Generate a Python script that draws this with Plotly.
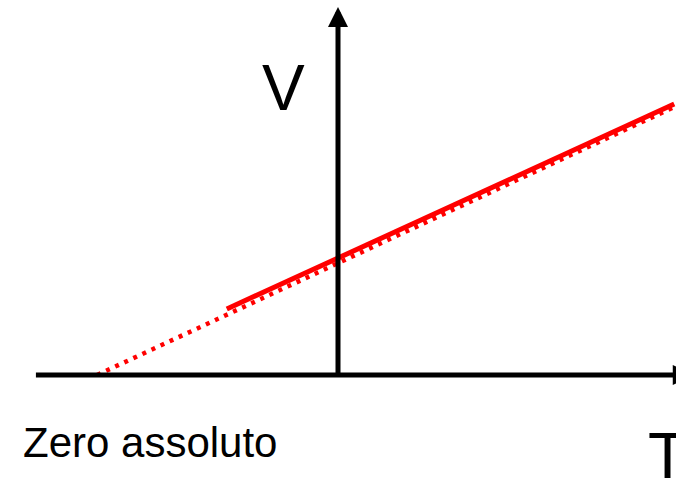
import plotly.graph_objects as go

# Data (T in °C, V in arbitrary units)
T_solid = [-126, 381]
V_solid = [66, 271]
T_dotted = [-273, 381]
V_dotted = [0, 268]

x_range = [-383, 383]
y_range = [-104, 375]

fig = go.Figure()
fig.add_trace(go.Scatter(x=T_dotted, y=V_dotted, mode="lines",
                         line=dict(color="#ff0000", width=4.5, dash="4px,6px"),
                         hoverinfo="skip"))
fig.add_trace(go.Scatter(x=T_solid, y=V_solid, mode="lines",
                         line=dict(color="#ff0000", width=5),
                         hoverinfo="skip"))

# axes with arrows
fig.add_annotation(x=402, y=0, ax=-344, ay=0, xref="x", yref="y", axref="x", ayref="y",
                   showarrow=True, arrowhead=2, arrowsize=0.8, arrowwidth=5,
                   arrowcolor="black", text="")
fig.add_annotation(x=0, y=368, ax=0, ay=-2, xref="x", yref="y", axref="x", ayref="y",
                   showarrow=True, arrowhead=2, arrowsize=0.8, arrowwidth=5,
                   arrowcolor="black", text="")

font = dict(family="Liberation Sans, Arial, sans-serif", color="black")
fig.add_annotation(x=-62, y=287, text="V", showarrow=False,
                   font=dict(size=64, **font), xanchor="center", yanchor="middle")
fig.add_annotation(x=373, y=-81, text="T", showarrow=False,
                   font=dict(size=64, **font), xanchor="center", yanchor="middle")
fig.add_annotation(x=-213, y=-67, text="Zero assoluto", showarrow=False,
                   font=dict(size=42, **font), xanchor="center", yanchor="middle")

fig.update_xaxes(range=x_range, visible=False)
fig.update_yaxes(range=y_range, visible=False)
fig.update_layout(width=676, height=479, margin=dict(l=0, r=0, t=0, b=0),
                  plot_bgcolor="white", paper_bgcolor="white", showlegend=False)
fig.write_html("out.html", config={"displayModeBar": False},
               post_script="document.body.style.margin='0';document.body.style.overflow='hidden';")
